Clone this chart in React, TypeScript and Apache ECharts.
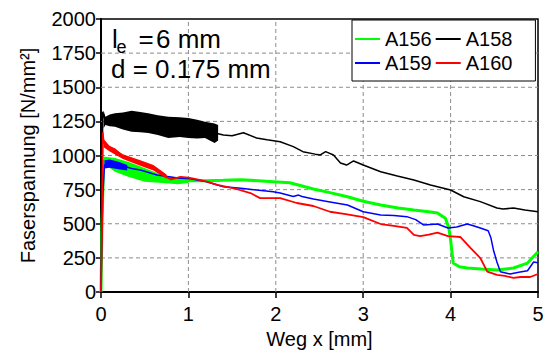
import React, { useEffect, useRef } from "react";
import * as echarts from "echarts";

type P = [number, number];

const seriesNames = ["A156", "A158", "A159", "A160"];
const seriesColors = ["#00ff00", "#000000", "#0000ff", "#ff0000"];

const a156: P[] = [
  [0, 0], [0.01, 450], [0.03, 960], [0.05, 960], [0.16, 930], [0.31, 900], [0.5, 858],
  [0.7, 828], [0.88, 812], [1.02, 817], [1.2, 815], [1.4, 818], [1.6, 822], [1.8, 815],
  [1.97, 808], [2.16, 800], [2.43, 755], [2.62, 728], [2.82, 698], [3.0, 665], [3.2, 637],
  [3.4, 615], [3.58, 601], [3.75, 588], [3.85, 578], [3.94, 540], [3.98, 470], [4.0, 381],
  [4.03, 212], [4.1, 185], [4.19, 176], [4.35, 168], [4.53, 161], [4.72, 176], [4.88, 212],
  [5.0, 295],
];

const a158: P[] = [
  [0, 0], [0.01, 620], [0.02, 1320], [0.05, 1250], [0.35, 1250], [0.77, 1205], [1.0, 1200],
  [1.19, 1185], [1.34, 1160], [1.4, 1150], [1.5, 1145], [1.63, 1167], [1.78, 1128],
  [1.9, 1115], [2.05, 1101], [2.2, 1065], [2.31, 1028], [2.45, 1010], [2.51, 1004],
  [2.57, 1028], [2.66, 1004], [2.74, 945], [2.81, 930], [2.89, 960], [3.0, 930], [3.2, 881],
  [3.39, 850], [3.58, 820], [3.77, 784], [4.0, 747], [4.15, 698], [4.34, 662], [4.53, 615],
  [4.6, 608], [4.72, 615], [4.85, 600], [5.0, 588],
];

const a159: P[] = [
  [0, 0], [0.01, 450], [0.02, 700], [0.04, 930], [0.07, 940], [0.18, 940], [0.25, 925],
  [0.35, 905], [0.45, 894], [0.64, 857], [0.88, 835], [1.02, 830], [1.21, 808], [1.4, 771],
  [1.6, 760], [1.78, 747], [1.97, 735], [2.05, 725], [2.2, 700], [2.26, 710], [2.3, 700],
  [2.43, 681], [2.62, 660], [2.82, 637], [3.0, 588], [3.2, 564], [3.35, 560], [3.5, 552],
  [3.6, 530], [3.69, 491], [3.85, 498], [3.97, 469], [4.07, 476], [4.19, 498], [4.26, 485],
  [4.34, 469], [4.43, 449], [4.46, 400], [4.49, 308], [4.53, 220], [4.57, 149], [4.68, 132],
  [4.78, 145], [4.88, 156], [4.95, 220], [5.0, 215],
];

const a160: P[] = [
  [0, 0], [0.015, 600], [0.02, 1170], [0.03, 1100], [0.05, 1077], [0.16, 1045], [0.25, 995],
  [0.35, 965], [0.45, 945], [0.6, 910], [0.7, 870], [0.75, 843], [0.8, 825], [0.91, 843],
  [1.0, 838], [1.1, 825], [1.2, 810], [1.33, 784], [1.52, 760], [1.71, 725], [1.82, 688],
  [1.97, 688], [2.05, 688], [2.24, 652], [2.43, 630], [2.62, 588], [2.8, 570], [3.0, 549],
  [3.2, 498], [3.35, 485], [3.5, 469], [3.58, 418], [3.65, 410], [3.75, 420], [3.85, 435],
  [3.97, 410], [4.11, 403], [4.23, 322], [4.34, 249], [4.42, 149], [4.53, 125], [4.62, 118],
  [4.72, 103], [4.8, 110], [4.91, 110], [5.0, 132],
];

// noisy bands (upper / lower envelopes)
const bandA158X = [0.03, 0.05, 0.1, 0.16, 0.25, 0.35, 0.45, 0.54, 0.65, 0.77, 0.9, 1.0, 1.1, 1.19, 1.3, 1.34];
const bandA158Hi = [1330, 1284, 1300, 1309, 1315, 1328, 1318, 1309, 1295, 1284, 1280, 1274, 1262, 1248, 1235, 1223];
const bandA158Lo = [1200, 1223, 1215, 1211, 1190, 1174, 1170, 1165, 1150, 1128, 1135, 1128, 1125, 1128, 1091, 1110];

const bandA156X = [0.03, 0.05, 0.16, 0.31, 0.5, 0.7, 0.88, 1.0];
const bandA156Hi = [990, 991, 982, 955, 908, 857, 835, 835];
const bandA156Lo = [940, 930, 881, 845, 808, 799, 789, 799];

const bandA159X = [0.04, 0.1, 0.2, 0.3];
const bandA159Hi = [965, 970, 955, 930];
const bandA159Lo = [905, 910, 900, 890];

const bandA160X = [0.03, 0.1, 0.25, 0.45, 0.6, 0.75];
const bandA160Hi = [1120, 1070, 1010, 965, 930, 860];
const bandA160Lo = [1060, 1030, 975, 925, 890, 830];

const xTicks = { min: 0, max: 5, interval: 1 };
const yTicks = { min: 0, max: 2000, interval: 250 };
const xGridValues = [1, 2, 3, 4];
const yGridValues = [250, 500, 750, 1000, 1250, 1500, 1750];

const FONT = "'Liberation Sans', Arial, sans-serif";

function bandSeries(xs: number[], hi: number[], lo: number[], color: string, z: number) {
  return {
    type: "custom",
    coordinateSystem: "cartesian2d",
    data: [[xs[0], lo[0]]],
    z,
    silent: true,
    clip: true,
    renderItem: (_params: any, api: any) => {
      const pts: number[][] = [];
      for (let i = 0; i < xs.length; i++) pts.push(api.coord([xs[i], hi[i]]));
      for (let i = xs.length - 1; i >= 0; i--) pts.push(api.coord([xs[i], lo[i]]));
      return { type: "polygon", shape: { points: pts }, style: { fill: color } };
    },
  };
}

function gridLineSeries() {
  const lineStyle = { stroke: "#8c8c8c", lineWidth: 1, lineDash: [4, 3] };
  return {
    type: "custom",
    coordinateSystem: "cartesian2d",
    data: [[0, 0]],
    z: 1,
    silent: true,
    clip: false,
    renderItem: (_params: any, api: any) => {
      const children: any[] = [];
      xGridValues.forEach((x) => {
        const a = api.coord([x, yTicks.min]);
        const b = api.coord([x, yTicks.max]);
        children.push({ type: "line", shape: { x1: a[0], y1: a[1], x2: b[0], y2: b[1] }, style: lineStyle });
      });
      yGridValues.forEach((y) => {
        const a = api.coord([xTicks.min, y]);
        const b = api.coord([xTicks.max, y]);
        children.push({ type: "line", shape: { x1: a[0], y1: a[1], x2: b[0], y2: b[1] }, style: lineStyle });
      });
      return { type: "group", children };
    },
  };
}

export default function App() {
  const ref = useRef<HTMLDivElement>(null);
  useEffect(() => {
    if (!ref.current) return;
    const chart = echarts.init(ref.current, undefined, { renderer: "svg" });
    const data = [a156, a158, a159, a160];
    const widths = [3, 1.5, 1.5, 1.8];
    const zs = [2, 3, 4, 5];
    chart.setOption({
      animation: false,
      backgroundColor: "#ffffff",
      textStyle: { fontFamily: FONT },
      grid: { left: 101, right: 11, top: 19, bottom: 63, show: true, borderColor: "#000", borderWidth: 1.5 },
      legend: {
        data: seriesNames,
        left: 352,
        top: 20,
        width: 186,
        orient: "horizontal",
        icon: "rect",
        itemWidth: 25,
        itemHeight: 2,
        itemGap: 4,
        padding: [9, 23, 8, 3],
        borderColor: "#000",
        borderWidth: 1,
        backgroundColor: "#fff",
        borderRadius: 0,
        z: 20,
        textStyle: { fontSize: 20, color: "#000", fontFamily: FONT, lineHeight: 20 },
      },
      xAxis: {
        type: "value",
        ...xTicks,
        name: "Weg x [mm]",
        nameLocation: "middle",
        nameGap: 36,
        nameTextStyle: { fontSize: 20, color: "#000", fontFamily: FONT },
        axisLine: { show: true, onZero: false, lineStyle: { color: "#000", width: 2 } },
        axisTick: { show: true, length: 6, lineStyle: { color: "#000", width: 1.5 } },
        axisLabel: { fontSize: 20, color: "#000", margin: 12, fontFamily: FONT, formatter: (v: number) => String(v) },
        splitLine: { show: false },
      },
      yAxis: {
        type: "value",
        ...yTicks,
        name: "Faserspannung [N/mm²]",
        nameLocation: "middle",
        nameGap: 63,
        nameTextStyle: { fontSize: 20, color: "#000", fontFamily: FONT },
        axisLine: { show: true, onZero: false, lineStyle: { color: "#000", width: 2 } },
        axisTick: { show: true, length: 5, lineStyle: { color: "#000", width: 1.5 } },
        axisLabel: { fontSize: 20, color: "#000", margin: 5, fontFamily: FONT, formatter: (v: number) => String(v) },
        splitLine: { show: false },
      },
      graphic: [
        { type: "text", x: 112, y: 39, z: 100, style: { text: "l", font: `26px ${FONT}`, fill: "#000", verticalAlign: "middle" } },
        { type: "text", x: 116.5, y: 47, z: 100, style: { text: "e", font: `18px ${FONT}`, fill: "#000", verticalAlign: "middle" } },
        { type: "text", x: 138.5, y: 39, z: 100, style: { text: "=", font: `26px ${FONT}`, fill: "#000", verticalAlign: "middle" } },
        { type: "text", x: 156, y: 39, z: 100, style: { text: "6 mm", font: `26px ${FONT}`, fill: "#000", verticalAlign: "middle" } },
        { type: "text", x: 111, y: 69, z: 100, style: { text: "d = 0.175 mm", font: `26px ${FONT}`, fill: "#000", verticalAlign: "middle" } },
      ],
      series: [
        gridLineSeries(),
        ...seriesNames.map((name, i) => ({
          name,
          type: "line",
          data: data[i],
          symbol: "none",
          z: zs[i],
          color: seriesColors[i],
          lineStyle: { color: seriesColors[i], width: widths[i] },
        })),
        bandSeries(bandA156X, bandA156Hi, bandA156Lo, seriesColors[0], 2),
        bandSeries(bandA158X, bandA158Hi, bandA158Lo, seriesColors[1], 3),
        bandSeries(bandA159X, bandA159Hi, bandA159Lo, seriesColors[2], 4),
        bandSeries(bandA160X, bandA160Hi, bandA160Lo, seriesColors[3], 5),
      ],
    });
    return () => chart.dispose();
  }, []);
  return (
    <div
      ref={ref}
      style={{ position: "absolute", left: 0, top: 0, width: 549, height: 355, background: "#fff" }}
    />
  );
}
